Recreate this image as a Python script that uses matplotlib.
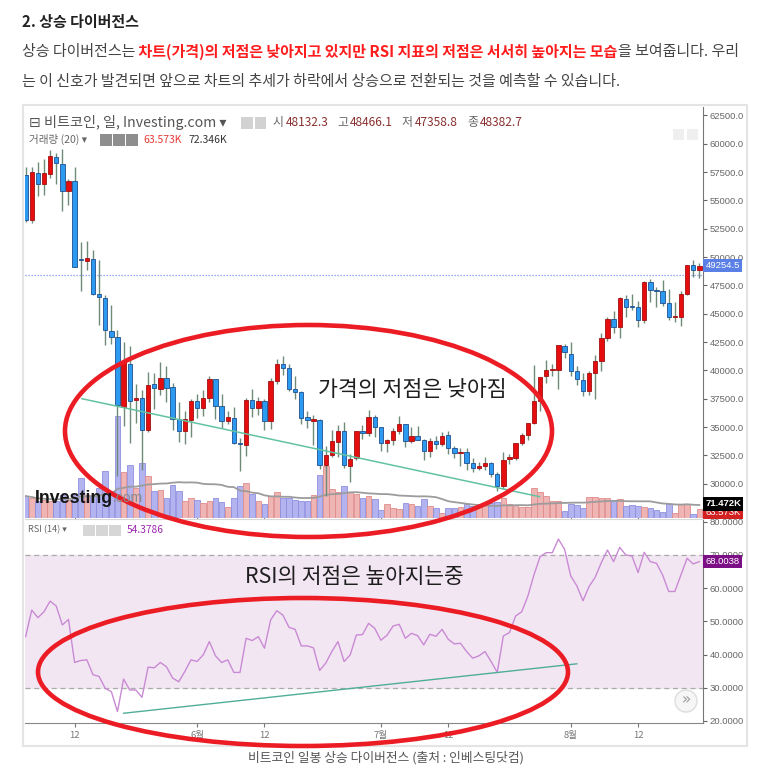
import numpy as np
import pandas as pd
import matplotlib
matplotlib.use('Agg')
import matplotlib.pyplot as plt
import matplotlib.transforms as mtrans
from matplotlib.patches import Ellipse, Rectangle, Circle

plt.rcParams['font.family'] = ['Noto Sans CJK KR', 'DejaVu Sans']

# 비트코인 일봉 (2021-05-04 ~ 2021-08-22)
dates = pd.date_range('2021-05-04', '2021-08-22', freq='D')

opens = [57215, 53253, 57441, 56413, 57353, 58877, 58250, 55847, 56714, 49735,
         49682, 49855, 46716, 46415, 43488, 42944, 36753, 40596, 37371, 37531,
         34701, 38795, 38392, 39316, 38507, 35684, 34607, 35659, 37293, 36699,
         37599, 39242, 36880, 35538, 35835, 33589, 33416, 37389, 36697, 37340,
         35555, 39097, 40600, 40250, 38341, 38099, 35854, 35563, 35641, 31622,
         32515, 33682, 34659, 31594, 32287, 34679, 34475, 35908, 35036, 33550,
         33854, 34665, 35285, 33723, 34225, 33889, 32861, 33811, 33516, 34259,
         33125, 32724, 32828, 31842, 31398, 31534, 31800, 30839, 29797, 32138,
         32306, 33593, 34290, 35384, 37276, 39503, 39995, 40027, 42196, 41460,
         39907, 39178, 38213, 39744, 40865, 42832, 44574, 43791, 46280, 45601,
         45581, 44439, 47810, 47097, 47019, 45937, 44686, 44742, 46723, 49327,
         48870]
highs = [57926, 57912, 58363, 58644, 59464, 59210, 59520, 56872, 57939, 51330,
         51438, 50639, 49720, 46623, 45812, 43546, 42462, 42172, 38831, 38289,
         39835, 39776, 40782, 40379, 38856, 37234, 36400, 37469, 37896, 38231,
         39479, 39242, 37917, 36436, 36790, 34017, 37537, 38334, 37608, 37468,
         39322, 41000, 41295, 40528, 39513, 38187, 36457, 36059, 35721, 33298,
         34753, 35163, 35487, 32637, 34656, 35219, 36542, 36074, 35036, 33940,
         34909, 35937, 35300, 35038, 35059, 33907, 34042, 34184, 34592, 34678,
         33340, 33114, 33159, 32249, 31935, 32398, 31885, 31006, 32752, 32576,
         33581, 34490, 35364, 40499, 39406, 40876, 40594, 42236, 42311, 42541,
         40420, 39750, 39952, 41341, 43271, 44689, 45282, 46456, 46617, 46747,
         46167, 47886, 48098, 47373, 47998, 47160, 46000, 47033, 49342, 49758,
         49500]
lows = [53129, 52969, 55383, 55474, 56975, 56482, 54071, 54608, 49150, 46980,
        48868, 46664, 43963, 42207, 42367, 30681, 35050, 33616, 35383, 31227,
        34551, 36581, 37869, 37247, 34779, 33693, 33520, 34153, 35787, 35967,
        37243, 35717, 34900, 35304, 33480, 31114, 32475, 35847, 36044, 34728,
        34848, 38757, 39609, 38176, 37439, 35256, 34933, 33432, 31295, 28893,
        32386, 32357, 31351, 30184, 32071, 33902, 34252, 34086, 32883, 32770,
        33402, 34396, 33213, 33599, 33861, 32133, 32318, 33024, 33336, 32658,
        32241, 31598, 31175, 31021, 31224, 31216, 30563, 29360, 29526, 31745,
        32058, 33424, 33881, 35287, 36442, 38862, 39540, 38397, 41064, 39540,
        38746, 37782, 37860, 37458, 39932, 42619, 43331, 42848, 44673, 45351,
        43848, 44217, 46034, 45580, 45700, 44461, 44228, 43927, 46650, 48263,
        48135]
closes = [53241, 57473, 56428, 57380, 58929, 58280, 55860, 56704, 49150, 49716,
          49880, 46760, 46456, 43538, 42909, 36964, 40784, 37304, 37536, 34771,
          38705, 38402, 39295, 38436, 35697, 34616, 35678, 37333, 36685, 37575,
          39208, 36894, 35551, 35862, 33560, 33472, 37345, 36702, 37334, 35552,
          39097, 40600, 40250, 38347, 38053, 35787, 35615, 35698, 31676, 32505,
          33723, 34662, 31637, 32186, 34650, 34494, 35911, 35041, 33572, 33897,
          34668, 35287, 33747, 34235, 33855, 32877, 33798, 33520, 34240, 33155,
          32702, 32822, 31781, 31421, 31533, 31797, 30817, 29807, 32110, 32314,
          33582, 34292, 35351, 37337, 39407, 39996, 40008, 42235, 41626, 39975,
          39201, 38153, 39747, 40869, 42817, 44555, 43798, 46365, 45586, 45593,
          44428, 47793, 47097, 47019, 45936, 44696, 44741, 46760, 49339, 48905,
          49254]
# 거래량 (K)
volume_k = [112, 102, 87, 92, 87, 87, 117, 92, 117, 204,
            117, 112, 153, 240, 138, 520, 235, 270, 153, 281,
            214, 138, 143, 102, 168, 138, 87, 102, 92, 77,
            87, 102, 82, 56, 102, 163, 179, 122, 87, 71,
            112, 133, 102, 102, 92, 87, 87, 117, 219, 265,
            148, 133, 163, 133, 122, 102, 112, 97, 41, 71,
            51, 46, 77, 71, 61, 97, 61, 51, 26, 51,
            51, 56, 71, 61, 56, 71, 77, 82, 102, 71,
            66, 56, 56, 153, 133, 112, 87, 87, 36, 71,
            66, 51, 107, 107, 102, 102, 92, 97, 61, 66,
            61, 56, 51, 41, 31, 71, 26, 71, 71, 20,
            46]
# RSI (14)
rsi = [45.4, 53.4, 51.1, 52.9, 56.1, 54.6, 48.9, 50.6, 37.6, 38.2,
       38.4, 33.9, 33.4, 29.8, 28.8, 22.8, 32.6, 29.3, 29.3, 27.1,
       36.2, 36.0, 37.6, 36.3, 32.9, 31.8, 34.9, 38.4, 37.9, 39.9,
       43.9, 39.6, 37.6, 38.4, 34.6, 34.6, 44.9, 44.2, 45.4, 41.9,
       50.4, 53.2, 51.9, 48.2, 47.6, 42.6, 42.6, 42.0, 35.2, 37.4,
       40.9, 43.9, 37.9, 39.9, 45.9, 46.0, 49.4, 47.9, 44.3, 45.8,
       48.6, 49.1, 44.9, 46.4, 45.7, 42.9, 46.1, 45.5, 47.6, 44.6,
       43.2, 43.4, 40.9, 38.9, 39.6, 40.9, 37.9, 34.6, 45.6, 46.6,
       51.6, 52.9, 57.6, 64.0, 69.5, 70.7, 70.7, 74.8, 71.7, 63.7,
       60.7, 56.2, 60.5, 63.3, 67.7, 71.5, 68.0, 72.3, 70.0, 69.7,
       64.7, 70.8, 68.0, 67.5, 64.0, 59.0, 59.0, 64.0, 69.0, 67.3,
       68.0]

tick_dates = ['2021-05-12', '2021-06-01', '2021-06-12', '2021-07-01',
              '2021-07-12', '2021-08-01', '2021-08-12']
tick_labels = ['12', '6월', '12', '7월', '12', '8월', '12']
price_ticks = [30000, 32500, 35000, 37500, 40000, 42500, 45000, 47500,
               50000, 52500, 55000, 57500, 60000, 62500]
rsi_ticks = [20, 30, 40, 50, 60, 70, 80]

# 추세선 (날짜 인덱스, 값)
price_trend_x = [9.2, 83.9]
price_trend_y = [37500, 28850]
rsi_trend_x = [16.0, 90.0]
rsi_trend_y = [22.3, 37.2]

last_price = 49254.5
hover_close = 48382.7
last_vol_ma = 71.472
last_rsi = 68.0038

W, H = 773, 778
fig = plt.figure(figsize=(W / 100, H / 100), dpi=100)


def px(x0, y0, x1, y1):
    return [x0 / W, 1 - y1 / H, (x1 - x0) / W, (y1 - y0) / H]


x = np.arange(len(dates))
o, hi, lo, c = map(np.array, (opens, highs, lows, closes))
up = c >= o

# 거래량 (가격 패널 아래쪽에 겹침)
axv = fig.add_axes(px(24.7, 107, 702.7, 518))
vol_up = '#efb4b4'
vol_dn = '#b3b4ef'
axv.bar(x, volume_k, width=0.92, color=np.where(up, vol_up, vol_dn),
        edgecolor=np.where(up, '#e08c8c', '#8e90e0'), linewidth=0.6)
vol_ma = pd.Series(volume_k).rolling(20, min_periods=1).mean()
axv.plot(x, vol_ma, color='#9c9c9c', lw=1.3)
axv.set_ylim(0, 2096)
for s in axv.spines.values():
    s.set_visible(False)
axv.set_xticks([])
axv.set_yticks([])

# 가격 캔들
ax = fig.add_axes(px(24.7, 107, 702.7, 518), sharex=axv)
ax.patch.set_visible(False)
ax.vlines(x, lo, hi, color='#6f8a78', lw=1, zorder=2)
body_bot = np.minimum(o, c)
body_h = np.maximum(np.abs(c - o), 90)
ax.bar(x[up], body_h[up], bottom=body_bot[up], width=0.72, color='#e50d0d',
       edgecolor='#a01010', linewidth=0.6, zorder=3)
ax.bar(x[~up], body_h[~up], bottom=body_bot[~up], width=0.72, color='#2b9af0',
       edgecolor='#1d4f8f', linewidth=0.6, zorder=3)
ax.plot(price_trend_x, price_trend_y, color='#62c3a2', lw=1.1, zorder=4)
ax.axhline(hover_close, color='#7393f2', ls=(0, (1, 1.4)), lw=0.9, zorder=1)
ax.set_xlim(-0.15, 110.55)
ax.set_ylim(26970, 63250)
ax.set_yticks(price_ticks)
ax.set_yticklabels([f'{v:.1f}' for v in price_ticks])
ax.yaxis.tick_right()
ax.tick_params(axis='y', labelsize=6.8, colors='#666666', length=3, pad=2)
for lab in ax.get_yticklabels():
    lab.set_family('Liberation Sans')
ax.tick_params(axis='x', bottom=False, labelbottom=False)
for side in ['top', 'left', 'bottom']:
    ax.spines[side].set_visible(False)
ax.spines['right'].set_color('#777777')

yb = mtrans.blended_transform_factory(ax.transAxes, ax.transData)
ax.text(1.004, last_price, f'{last_price:.1f}', transform=yb, fontsize=6.8,
        family='Liberation Sans', color='white', va='center', ha='left', zorder=6,
        bbox=dict(boxstyle='square,pad=0.22', fc='#5a7fe6', ec='none'))
vb = mtrans.blended_transform_factory(axv.transAxes, axv.transData)
ax.text(1.004, 30, '63.573K', transform=vb, fontsize=6.8, family='Liberation Sans',
        color='white', va='center', ha='left', zorder=5,
        bbox=dict(boxstyle='square,pad=0.22', fc='#d32020', ec='none'))
ax.text(1.004, last_vol_ma, f'{last_vol_ma:.3f}K', transform=vb, fontsize=6.8,
        family='Liberation Sans', color='white', weight='bold', va='center',
        ha='left', zorder=6, bbox=dict(boxstyle='square,pad=0.22', fc='#000000', ec='none'))

# RSI
ax_r = fig.add_axes(px(24.7, 519, 702.7, 723), sharex=ax)
ax_r.axhspan(30, 70, color='#f3e6f3', zorder=0)
for lvl in (30, 70):
    ax_r.axhline(lvl, color='#ababab', ls=(0, (4, 3)), lw=0.9, zorder=1)
ax_r.plot(x, rsi, color='#c98ad4', lw=1.0, zorder=3)
ax_r.plot(rsi_trend_x, rsi_trend_y, color='#4fae96', lw=1.0, zorder=4)
ax_r.set_ylim(19.36, 80.85)
ax_r.set_yticks(rsi_ticks)
ax_r.set_yticklabels([f'{v:.4f}' for v in rsi_ticks])
ax_r.yaxis.tick_right()
ax_r.tick_params(axis='y', labelsize=6.8, colors='#666666', length=3, pad=2)
for lab in ax_r.get_yticklabels():
    lab.set_family('Liberation Sans')
tick_pos = dates.get_indexer(pd.to_datetime(tick_dates))
ax_r.set_xticks(tick_pos)
ax_r.set_xticklabels(tick_labels)
ax_r.tick_params(axis='x', labelsize=6.8, colors='#777777', length=3, pad=3)
ax_r.spines['left'].set_visible(False)
ax_r.spines['top'].set_color('#d8d8d8')
ax_r.spines['right'].set_color('#777777')
ax_r.spines['bottom'].set_color('#888888')
rb = mtrans.blended_transform_factory(ax_r.transAxes, ax_r.transData)
ax_r.text(1.004, last_rsi, f'{last_rsi:.4f}', transform=rb, fontsize=6.8,
          family='Liberation Sans', color='white', va='center', ha='left', zorder=6,
          bbox=dict(boxstyle='square,pad=0.22', fc='#7d0f86', ec='none'))

# 오버레이 (픽셀 좌표)
ov = fig.add_axes([0, 0, 1, 1])
ov.set_xlim(0, W)
ov.set_ylim(H, 0)
ov.axis('off')
ov.add_patch(Rectangle((22.5, 104.5), 724.5, 641, fill=False, ec='#e4e4e4', lw=1.5))

# 본문
body_fs = 10.8
ov.text(22, 22, '2. 상승 다이버전스', fontsize=body_fs, weight='bold', color='#222222', va='center')
t1 = ov.text(22, 52, '상승 다이버전스는', fontsize=body_fs, color='#444444', va='center')
t2 = ov.annotate(' 차트(가격)의 저점은 낮아지고 있지만 RSI 지표의 저점은 서서히 높아지는 모습',
                 xy=(1, 0.5), xycoords=t1, va='center', ha='left', fontsize=body_fs,
                 color='#ff1c1c', weight='bold')
ov.annotate('을 보여줍니다. 우리', xy=(1, 0.5), xycoords=t2, va='center', ha='left',
            fontsize=body_fs, color='#444444')
ov.text(22, 82, '는 이 신호가 발견되면 앞으로 차트의 추세가 하락에서 상승으로 전환되는 것을 예측할 수 있습니다.',
        fontsize=body_fs, color='#444444', va='center')

# 차트 헤더
ov.text(29, 122.5, '⊟ 비트코인, 일, Investing.com ▾', fontsize=10.2, color='#555555', va='center')
for ix in (241, 254.5):
    ov.add_patch(Rectangle((ix, 117), 11.5, 11.5, fc='#d2d2d2', ec='none'))
for lab, lx, val, vx in [('시', 273, '48132.3', 286), ('고', 337, '48466.1', 350),
                         ('저', 402, '47358.8', 415), ('종', 467, '48382.7', 480)]:
    ov.text(lx, 122.5, lab, fontsize=8.6, color='#666666', va='center')
    ov.text(vx, 122.5, val, fontsize=8.6, color='#8a3030', va='center')
ov.text(29, 139.5, '거래량 (20) ▾', fontsize=7.6, color='#666666', va='center')
for ix in (100, 113, 126):
    ov.add_patch(Rectangle((ix, 134), 11.5, 11.5, fc='#8e8e8e', ec='none'))
ov.text(143, 139.5, '63.573K', fontsize=7.5, color='#e53935', va='center')
ov.text(188, 139.5, '72.346K', fontsize=7.5, color='#333333', va='center')
for ix in (673, 687):
    ov.add_patch(Rectangle((ix, 129), 11, 11, fc='#efefef', ec='none'))

ov.text(28, 530, 'RSI (14) ▾', fontsize=6.6, color='#666666', va='center')
for ix in (83, 96, 109):
    ov.add_patch(Rectangle((ix, 524.5), 11.5, 11.5, fc='#d6d6d6', ec='none'))
ov.text(127, 530, '54.3786', fontsize=7.3, color='#9c27b0', va='center')

# 워터마크
wm = ov.text(35, 498, 'Investing', fontsize=12.8, weight='bold', family='Liberation Sans',
             color='#161616', va='center')
ov.annotate('.com', xy=(1, 0.5), xycoords=wm, va='center', ha='left', fontsize=10,
            family='Liberation Sans', color='#8a8a8a')

# >> 버튼
ov.add_patch(Circle((686, 701), 11, fc='#f6f6f6', ec='#dddddd', lw=1))
ov.text(686, 700, '»', fontsize=11, color='#999999', ha='center', va='center', family='DejaVu Sans')

# 빨간 원과 주석
ov.add_patch(Ellipse((308.5, 431), 487, 212, fill=False, ec='#ec1c24', lw=3.3))
ov.add_patch(Ellipse((303, 672), 530, 148, fill=False, ec='#ec1c24', lw=3.3))
ov.text(412, 390, '가격의 저점은 낮아짐', fontsize=15.6, color='#1e1e1e', ha='center', va='center')
ov.text(354, 577, 'RSI의 저점은 높아지는중', fontsize=15.4, color='#1e1e1e', ha='center', va='center')

# 캡션
ov.text(386, 758, '비트코인 일봉 상승 다이버전스 (출처 : 인베스팅닷컴)', fontsize=9.2,
        color='#555555', ha='center', va='center')

fig.savefig('out.png', dpi=100)
